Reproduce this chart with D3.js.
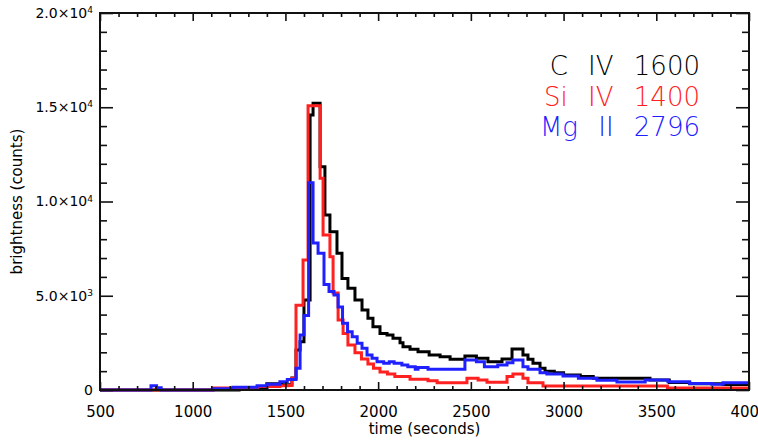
<!DOCTYPE html>
<html>
<head>
<meta charset="utf-8">
<script src="https://cdn.jsdelivr.net/npm/d3@7"></script>
<style>
  body { margin: 0; background: #fff; }
  svg text { font-family: "DejaVu Sans", sans-serif; fill: #000; }
</style>
</head>
<body>
<div id="chart"></div>
<script>
// step series: [time start (s), counts] -- each value holds until the next time
const civ1600 = [
  [500, 0], [1250, 100], [1400, 330], [1480, 280], [1535, 640], [1557, 2120], [1579, 2560],
  [1600, 4775], [1633, 14590], [1649, 15210], [1687, 11850], [1713, 9280], [1740, 8400],
  [1778, 7250], [1805, 5920], [1837, 5400], [1875, 4775], [1913, 4240], [1945, 3800],
  [1972, 3360], [2010, 3000], [2048, 2920], [2080, 2740], [2118, 2510], [2134, 2300],
  [2172, 2160], [2215, 2030], [2275, 1860], [2334, 1770], [2388, 1630], [2468, 1800],
  [2530, 1680], [2592, 1500], [2668, 1650], [2722, 2180], [2781, 1860], [2808, 1630],
  [2835, 1415], [2873, 1150], [2900, 1000], [2950, 920], [3000, 800], [3090, 710],
  [3160, 620], [3466, 530], [3570, 400], [3680, 330], [3860, 290]
];
const siiv1400 = [
  [500, 0], [1110, 100], [1350, 180], [1470, 220], [1514, 240], [1535, 620], [1557, 4500],
  [1595, 6900], [1622, 15080], [1687, 11230], [1703, 8220], [1740, 7070], [1757, 5140],
  [1784, 3710], [1811, 3000], [1837, 2390], [1875, 1980], [1910, 1650], [1945, 1380],
  [1975, 1150], [2010, 950], [2050, 850], [2090, 710], [2172, 570], [2269, 490],
  [2318, 390], [2479, 620], [2539, 530], [2587, 410], [2695, 710], [2727, 850],
  [2781, 620], [2808, 390], [2889, 210], [3560, 100]
];
const mgii2796 = [
  [500, 0], [775, 230], [805, 120], [830, 0], [1110, 60], [1217, 150], [1347, 220],
  [1400, 300], [1470, 440], [1510, 560], [1557, 1150], [1579, 2920], [1600, 3950],
  [1625, 11000], [1649, 7800], [1676, 7250], [1708, 5600], [1735, 5220], [1762, 5040],
  [1784, 4400], [1808, 3540], [1835, 3090], [1860, 2830], [1887, 2480], [1913, 2210],
  [1940, 1860], [1967, 1680], [1994, 1500], [2030, 1415], [2060, 1500], [2086, 1415],
  [2128, 1330], [2160, 1240], [2200, 1100], [2215, 1200], [2269, 1100], [2468, 1590],
  [2530, 1500], [2573, 1240], [2645, 1330], [2695, 1450], [2727, 1590], [2781, 1240],
  [2808, 1100], [2873, 920], [2910, 850], [2997, 740], [3080, 620], [3180, 520],
  [3288, 430], [3440, 530], [3563, 440], [3680, 340], [3800, 300], [3860, 380]
];

const series = [
  { name: "C IV 1600", color: "#000000", values: civ1600 },
  { name: "Si IV 1400", color: "#ff2020", values: siiv1400 },
  { name: "Mg II 2796", color: "#2020ff", values: mgii2796 }
];

const xMajor = [500, 1000, 1500, 2000, 2500, 3000, 3500, 4000];
const yMajor = [0, 5000, 10000, 15000, 20000];

const W = 758, H = 442;
const margin = { top: 13, right: 9, bottom: 52, left: 100 };
const width = W - margin.left - margin.right;
const height = H - margin.top - margin.bottom;

const x = d3.scaleLinear().domain([500, 4000]).range([0, width]);
const y = d3.scaleLinear().domain([0, 20000]).range([height, 0]);

const svg = d3.select("#chart").append("svg")
  .attr("width", W).attr("height", H)
  .append("g")
  .attr("transform", `translate(${margin.left},${margin.top})`);

// data lines
const line = d3.line()
  .x(d => x(d[0]))
  .y(d => y(d[1]))
  .curve(d3.curveStepAfter);

series.forEach(s => {
  const pts = s.values.concat([[4000, s.values[s.values.length - 1][1]]]);
  svg.append("path")
    .datum(pts)
    .attr("fill", "none")
    .attr("stroke", s.color)
    .attr("stroke-width", 3)
    .attr("d", line);
});

// axes, ticks inward on all four sides
const xMinor = d3.range(500, 4001, 100).filter(v => v % 500 !== 0);
const yMinor = d3.range(0, 20001, 1000).filter(v => v % 5000 !== 0);

svg.append("g").attr("transform", `translate(0,${height})`)
  .call(d3.axisBottom(x).tickValues(xMinor).tickSize(-4).tickFormat(""));
const xAx = svg.append("g").attr("transform", `translate(0,${height})`)
  .call(d3.axisBottom(x).tickValues(xMajor).tickSize(-8).tickPadding(16).tickFormat(d3.format("d")));
svg.append("g")
  .call(d3.axisTop(x).tickValues(xMinor).tickSize(-4).tickFormat(""));
svg.append("g")
  .call(d3.axisTop(x).tickValues(xMajor).tickSize(-8).tickFormat(""));

svg.append("g")
  .call(d3.axisLeft(y).tickValues(yMinor).tickSize(-7).tickFormat(""));
const yAx = svg.append("g")
  .call(d3.axisLeft(y).tickValues(yMajor).tickSize(-13).tickPadding(7));
svg.append("g").attr("transform", `translate(${width},0)`)
  .call(d3.axisRight(y).tickValues(yMinor).tickSize(-7).tickFormat(""));
svg.append("g").attr("transform", `translate(${width},0)`)
  .call(d3.axisRight(y).tickValues(yMajor).tickSize(-13).tickFormat(""));

svg.selectAll(".domain").remove();
svg.selectAll(".tick line").attr("stroke", "#111").attr("stroke-width", 1.6);

svg.append("rect")
  .attr("width", width).attr("height", height)
  .attr("fill", "none").attr("stroke", "#111").attr("stroke-width", 2);

xAx.selectAll("text").attr("font-size", 15).attr("font-family", "DejaVu Sans");

yAx.selectAll(".tick text")
  .attr("font-size", 14).attr("font-family", "DejaVu Sans")
  .each(function (d) {
    const t = d3.select(this);
    t.text("");
    if (d === 0) { t.text("0"); return; }
    const exp = Math.floor(Math.log10(d));
    const mant = d / Math.pow(10, exp);
    t.append("tspan").text(mant.toFixed(1) + "×10");
    t.append("tspan").attr("dy", "-0.55em").attr("font-size", 9).text(exp);
  });

// axis titles
svg.append("text")
  .attr("x", width / 2).attr("y", height + 44)
  .attr("text-anchor", "middle").attr("font-size", 15)
  .text("time (seconds)");

svg.append("text")
  .attr("transform", "rotate(-90)")
  .attr("x", -height / 2).attr("y", -78)
  .attr("text-anchor", "middle").attr("font-size", 15)
  .text("brightness (counts)");

// legend
const legendY = [75, 106, 136];
series.forEach((s, i) => {
  svg.append("text")
    .attr("x", 700 - margin.left).attr("y", legendY[i] - margin.top)
    .attr("text-anchor", "end")
    .attr("font-size", 26)
    .attr("font-weight", 300)
    .attr("word-spacing", 12)
    .style("fill", s.color)
    .text(s.name);
});
</script>
</body>
</html>
